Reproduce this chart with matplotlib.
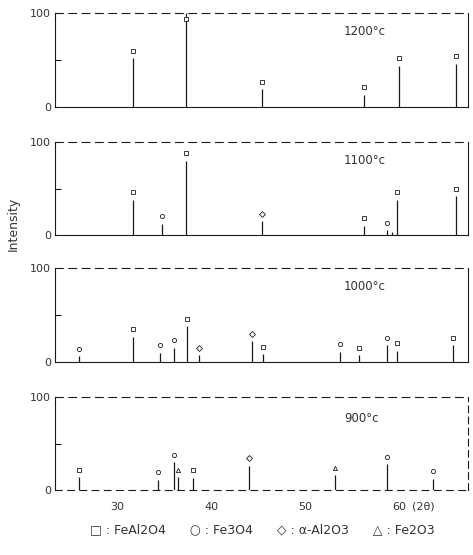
import matplotlib.pyplot as plt

# XRD stick patterns (2-theta, relative intensity, phase)
temps = ["1200°c", "1100°c", "1000°c", "900°c"]

pos_1200 = [31.7, 37.3, 45.4, 56.2, 60.0, 66.0]
int_1200 = [52, 100, 19, 13, 44, 46]
phase_1200 = ["s", "s", "s", "s", "s", "s"]

pos_1100 = [31.7, 34.8, 37.3, 45.4, 56.2, 58.7, 59.2, 59.8, 66.0]
int_1100 = [38, 12, 80, 15, 10, 5, 3, 38, 42]
phase_1100 = ["s", "o", "s", "D", "s", "o", "", "s", "s"]

pos_1000 = [26.0, 31.7, 34.6, 36.1, 37.4, 38.7, 44.3, 45.5, 53.7, 55.7, 58.7, 59.8, 65.7]
int_1000 = [6, 27, 10, 15, 38, 7, 22, 8, 11, 7, 18, 12, 18]
phase_1000 = ["o", "s", "o", "o", "s", "D", "D", "s", "o", "s", "o", "s", "s"]

pos_900 = [26.0, 34.4, 36.0, 36.5, 38.1, 44.0, 53.2, 58.7, 63.6]
int_900 = [14, 11, 30, 14, 13, 26, 16, 28, 12]
phase_900 = ["s", "o", "o", "^", "s", "D", "^", "o", "o"]

xticks = [30, 40, 50, 60]
legend_text = "□ : FeAl2O4      ○ : Fe3O4      ◇ : α-Al2O3      △ : Fe2O3"

panels = [
    (pos_1200, int_1200, phase_1200),
    (pos_1100, int_1100, phase_1100),
    (pos_1000, int_1000, phase_1000),
    (pos_900, int_900, phase_900),
]

W, H = 473, 555
fig = plt.figure(figsize=(W / 100, H / 100), dpi=100)
ink = "#1a1a1a"

# panel top/bottom pixel rows in the reference
rows = [(13, 107), (142, 235), (268, 362), (397, 490)]
x0, x1 = 55, 468

for i, ((yt, yb), (pos, inten, ph)) in enumerate(zip(rows, panels)):
    ax = fig.add_axes([x0 / W, 1 - yb / H, (x1 - x0) / W, (yb - yt) / H])
    ax.set_xlim(23.4, 67.3)
    ax.set_ylim(0, 100)

    ax.vlines(pos, 0, inten, color=ink, lw=0.9)
    for p, h, m in zip(pos, inten, ph):
        if not m:
            continue
        ax.plot(p, min(h + 8, 94), marker=m, ms=3.0, mfc="white", mec=ink,
                mew=0.6, ls="none")

    for s in ax.spines.values():
        s.set_color(ink)
        s.set_linewidth(0.8)
    ax.spines["top"].set_linestyle((0, (7, 5)))
    if i == 3:
        ax.spines["bottom"].set_linestyle((0, (6, 5)))
        ax.spines["right"].set_linestyle((0, (6, 4)))

    ax.set_yticks([0, 100])
    ax.set_yticklabels(["0", "100"], fontsize=8, color="#333")
    ax.set_yticks([50], minor=True)
    ax.tick_params(axis="y", which="major", length=0, pad=3)
    ax.tick_params(axis="y", which="minor", length=4, direction="in",
                   width=0.8, color=ink)

    if i == 3:
        ax.set_xticks(xticks)
        ax.set_xticklabels([str(t) for t in xticks], fontsize=8, color="#333")
        ax.tick_params(axis="x", length=0, pad=9)
        ax.text(61.3, -18, "(2θ)", fontsize=8, color="#333",
                ha="left", va="center", clip_on=False)
    else:
        ax.set_xticks([])

    ax.text(0.70, 0.80 if i < 3 else 0.77, temps[i], transform=ax.transAxes,
            fontsize=8.5, color="#333", ha="left", va="center")

fig.text(13 / W, 1 - 224 / H, "Intensity", rotation=90, fontsize=9,
         color="#333", ha="center", va="center")
fig.text(262 / W, 1 - 530 / H, legend_text, fontsize=9, color="#333",
         ha="center", va="center")

fig.savefig("out.png", dpi=100)
